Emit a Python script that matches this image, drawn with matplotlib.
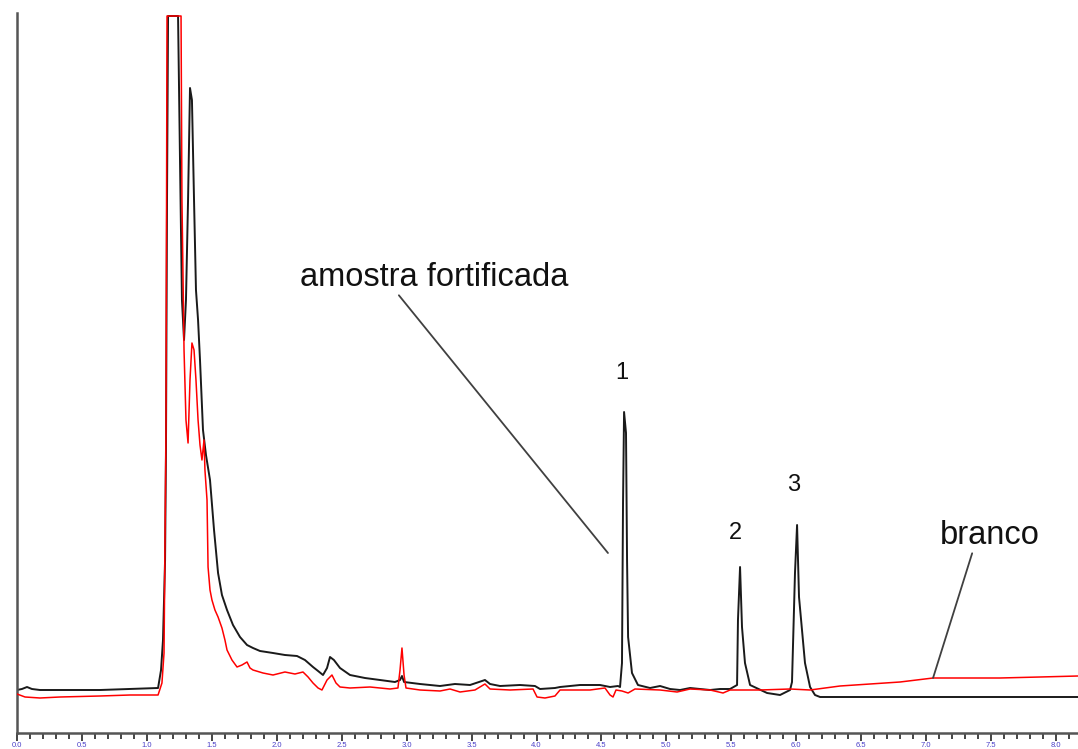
import matplotlib
matplotlib.use('Agg')
import matplotlib.pyplot as plt
from matplotlib.ticker import MultipleLocator, FormatStrFormatter

plt.rcParams['font.family'] = ['Liberation Sans', 'DejaVu Sans']

# amostra fortificada (tempo em min, sinal)
t_amostra = [0.000, 0.038, 0.077, 0.115, 0.177, 0.639, 1.086, 1.109, 1.124, 1.140,
             1.147, 1.155, 1.163, 1.240, 1.255, 1.270, 1.286, 1.301, 1.317, 1.332,
             1.347, 1.363, 1.378, 1.394, 1.409, 1.432, 1.455, 1.486, 1.517, 1.548,
             1.578, 1.617, 1.663, 1.717, 1.771, 1.817, 1.871, 1.971, 2.063, 2.156,
             2.217, 2.279, 2.318, 2.356, 2.387, 2.410, 2.440, 2.487, 2.564, 2.679,
             2.795, 2.910, 2.949, 2.964, 2.980, 3.103, 3.257, 3.372, 3.488, 3.603,
             3.642, 3.719, 3.873, 3.988, 4.027, 4.142, 4.181, 4.335, 4.489, 4.566,
             4.627, 4.643, 4.658, 4.666, 4.674, 4.689, 4.697, 4.705, 4.735, 4.781,
             4.874, 4.951, 5.028, 5.105, 5.182, 5.259, 5.336, 5.413, 5.490, 5.544,
             5.551, 5.567, 5.582, 5.605, 5.644, 5.775, 5.875, 5.952, 5.967, 5.990,
             6.006, 6.021, 6.067, 6.106, 6.144, 6.183, 8.169]
s_amostra = [43, 44, 46, 44, 43, 43, 45, 63, 93, 173,
             283, 533, 717, 717, 573, 433, 393, 433, 533, 645,
             633, 533, 443, 413, 373, 303, 278, 253, 203, 160,
             138, 123, 108, 96, 88, 85, 82, 80, 78, 77,
             73, 66, 62, 58, 65, 76, 73, 65, 58, 55,
             53, 51, 53, 57, 51, 49, 47, 49, 48, 53,
             49, 47, 48, 47, 44, 45, 46, 48, 48, 46,
             47, 46, 70, 230, 321, 300, 173, 96, 60, 48,
             45, 47, 44, 43, 45, 44, 43, 44, 44, 48,
             113, 166, 106, 70, 48, 40, 38, 43, 51, 160,
             208, 136, 70, 46, 38, 36, 36]

# branco
t_branco = [0.000, 0.062, 0.177, 0.331, 0.639, 0.870, 1.086, 1.116, 1.132, 1.147,
            1.155, 1.263, 1.270, 1.286, 1.301, 1.317, 1.332, 1.347, 1.363, 1.378,
            1.394, 1.409, 1.424, 1.440, 1.447, 1.463, 1.471, 1.486, 1.501, 1.524,
            1.548, 1.578, 1.601, 1.617, 1.655, 1.694, 1.732, 1.771, 1.794, 1.817,
            1.894, 1.971, 2.063, 2.140, 2.202, 2.241, 2.279, 2.318, 2.348, 2.387,
            2.425, 2.456, 2.487, 2.564, 2.718, 2.872, 2.933, 2.949, 2.964, 2.980,
            2.995, 3.103, 3.257, 3.334, 3.411, 3.526, 3.603, 3.642, 3.796, 3.973,
            4.004, 4.065, 4.142, 4.181, 4.296, 4.412, 4.527, 4.566, 4.589, 4.612,
            4.658, 4.705, 4.758, 4.951, 5.082, 5.182, 5.336, 5.436, 5.490, 5.721,
            5.952, 6.106, 6.337, 6.568, 6.799, 7.053, 7.261, 7.568, 7.876, 8.169]
s_branco = [39, 36, 35, 36, 37, 38, 38, 50, 80, 300,
            717, 717, 533, 383, 313, 290, 353, 390, 383, 353,
            313, 288, 273, 293, 263, 233, 166, 143, 133, 123,
            116, 105, 93, 83, 73, 66, 68, 71, 65, 63,
            60, 58, 61, 59, 61, 56, 50, 45, 43, 53,
            58, 50, 46, 45, 46, 44, 45, 63, 85, 58,
            45, 43, 42, 44, 41, 43, 49, 44, 43, 44,
            36, 35, 37, 43, 43, 43, 45, 38, 36, 43,
            42, 40, 44, 43, 41, 44, 43, 40, 43, 43,
            44, 43, 47, 49, 51, 55, 55, 55, 56, 57]

picos = ['1', '2', '3']
pico_pos = [(4.658, 360), (5.528, 200), (5.982, 248)]

fig = plt.figure(figsize=(10.78, 7.49), dpi=100)
ax = fig.add_axes([17 / 1078, 16 / 749, 1061 / 1078, 720 / 749])

ax.plot(t_amostra, s_amostra, color='#1a1a1a', linewidth=1.4, zorder=2)
ax.plot(t_branco, s_branco, color='#ff0000', linewidth=1.1, zorder=3)

ax.set_xlim(0, 8.169)
ax.set_ylim(0, 720)

# eixos no estilo do software do cromatógrafo
for lado in ['top', 'right']:
    ax.spines[lado].set_visible(False)
for lado in ['left', 'bottom']:
    ax.spines[lado].set_color('#555555')
    ax.spines[lado].set_linewidth(1.8)

ax.xaxis.set_major_locator(MultipleLocator(0.5))
ax.xaxis.set_minor_locator(MultipleLocator(0.1))
ax.xaxis.set_major_formatter(FormatStrFormatter('%.1f'))
ax.tick_params(axis='x', which='major', direction='out', length=6, width=1.4,
               color='#444444', labelsize=5.5, labelcolor='#4a3fc8', pad=0.5)
ax.tick_params(axis='x', which='minor', direction='out', length=4, width=1.4,
               color='#444444')
ax.set_yticks([])

ax.annotate('amostra fortificada', xy=(4.550, 180), xytext=(2.179, 456),
            fontsize=23.5, color='#111111', va='center', ha='left',
            arrowprops=dict(arrowstyle='-', color='#404040', lw=1.3,
                            shrinkA=0, shrinkB=0, relpos=(0.36, 0.0)))
ax.annotate('branco', xy=(7.053, 55), xytext=(7.107, 198),
            fontsize=23.5, color='#111111', va='center', ha='left',
            arrowprops=dict(arrowstyle='-', color='#404040', lw=1.3,
                            shrinkA=0, shrinkB=0, relpos=(0.33, 0.0)))

for nome, (x, y) in zip(picos, pico_pos):
    ax.text(x, y, nome, fontsize=17, color='#111111', ha='center', va='center')

fig.savefig('out.png', dpi=100)
